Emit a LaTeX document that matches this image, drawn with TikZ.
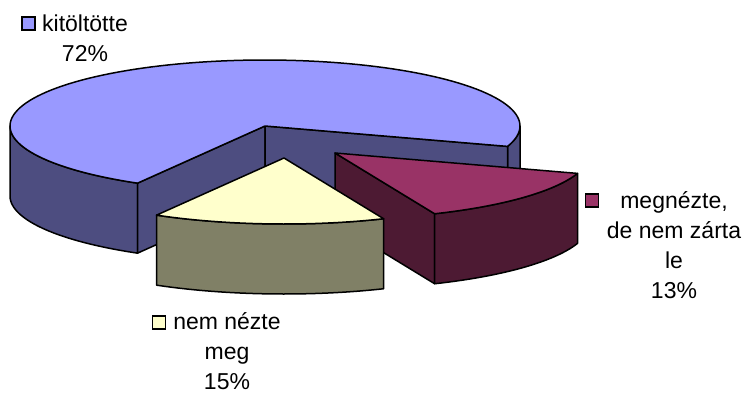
\documentclass[tikz,border=0pt]{standalone}
\usepackage{fontspec}
\setmainfont{Liberation Sans}
\definecolor{btop}{HTML}{9999FF}
\definecolor{bside}{HTML}{4D4D80}
\definecolor{mtop}{HTML}{993366}
\definecolor{mside}{HTML}{4D1A33}
\definecolor{ctop}{HTML}{FFFFCC}
\definecolor{cside}{HTML}{808066}
\begin{document}
\begin{tikzpicture}[x=1pt,y=-1pt,
  face/.style={draw=black,line width=1.5pt,line join=round},
  keybox/.style={draw=black,line width=1.3pt,minimum size=13pt,inner sep=0pt},
  lbl/.style={anchor=base,inner sep=0pt,font=\fontsize{23}{30}\selectfont}]
\useasboundingbox (0,0) rectangle (745,394);
% ---- blue slice (72%), centre (265,126)
\filldraw[face,fill=bside] plot[domain=120:180,samples=40,variable=\t] ({265+255*cos(\t)},{126+66*sin(\t)})
  -- plot[domain=180:120,samples=40,variable=\t] ({265+255*cos(\t)},{196+66*sin(\t)}) -- cycle;
\filldraw[face,fill=bside] plot[domain=0:18,samples=20,variable=\t] ({265+255*cos(\t)},{126+66*sin(\t)})
  -- plot[domain=18:0,samples=20,variable=\t] ({265+255*cos(\t)},{196+66*sin(\t)}) -- cycle;
\filldraw[face,fill=bside] (265,126) -- (137.5,183.16) -- (137.5,253.16) -- (265,196) -- cycle;
\filldraw[face,fill=bside] (265,126) -- (507.52,146.40) -- (507.52,216.40) -- (265,196) -- cycle;
\filldraw[face,fill=btop] (265,126) -- plot[domain=18:-240,samples=120,variable=\t] ({265+255*cos(\t)},{126+66*sin(\t)}) -- cycle;
% ---- magenta slice (13%), centre (335,153)
\filldraw[face,fill=mside] (335,153) -- (434.64,213.75) -- (434.64,283.75) -- (335,223) -- cycle;
\filldraw[face,fill=mside] plot[domain=18:67,samples=40,variable=\t] ({335+255*cos(\t)},{153+66*sin(\t)})
  -- plot[domain=67:18,samples=40,variable=\t] ({335+255*cos(\t)},{223+66*sin(\t)}) -- cycle;
\filldraw[face,fill=mtop] (335,153) -- plot[domain=18:67,samples=40,variable=\t] ({335+255*cos(\t)},{153+66*sin(\t)}) -- cycle;
% ---- cream slice (15%), centre (284,158)
\filldraw[face,fill=cside] plot[domain=67:120,samples=40,variable=\t] ({284+255*cos(\t)},{158+66*sin(\t)})
  -- plot[domain=120:67,samples=40,variable=\t] ({284+255*cos(\t)},{228+66*sin(\t)}) -- cycle;
\filldraw[face,fill=ctop] (284,158) -- plot[domain=67:120,samples=40,variable=\t] ({284+255*cos(\t)},{158+66*sin(\t)}) -- cycle;
% ---- labels
\node[keybox,fill=btop] (kb) at (28.5,23.5) {};
\node[lbl] (lb) at (85,31.5) {\vtop{\halign{\hfil#\hfil\cr kitöltötte\cr 72\%\cr}}};
\node[keybox,fill=mtop] (km) at (592,200.5) {};
\node[lbl] (lm) at (674,208) {\vtop{\halign{\hfil#\hfil\cr megnézte,\cr de nem zárta\cr le\cr 13\%\cr}}};
\node[keybox,fill=ctop] (kc) at (159,322.5) {};
\node[lbl] (lc) at (227,329) {\vtop{\halign{\hfil#\hfil\cr nem nézte\cr meg\cr 15\%\cr}}};
\end{tikzpicture}
\end{document}
